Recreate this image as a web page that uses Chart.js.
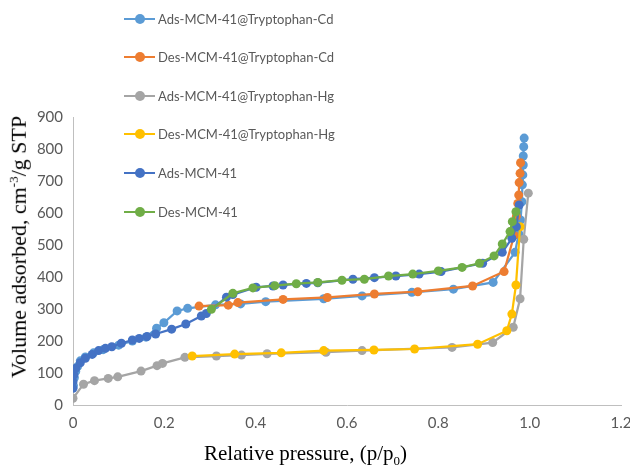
<!DOCTYPE html>
<html>
<head>
<meta charset="utf-8">
<script src="https://cdn.jsdelivr.net/npm/chart.js@4"></script>
<style>
    body { margin: 0; background: #fff; }
    #wrap { position: relative; width: 630px; height: 465px; }
    #legend { position: absolute; left: 0; top: 0; }
    .legend-item { position: absolute; left: 124px; height: 16px; white-space: nowrap;
        font-family: Lato, sans-serif; font-size: 13px; color: #595959; line-height: 16px; }
    .legend-line { position: absolute; left: 0; top: 7px; width: 31px; height: 2px; }
    .legend-dot { position: absolute; left: 11px; top: 3px; width: 10px; height: 10px; border-radius: 50%; }
    .legend-text { position: absolute; left: 34px; top: 0; }
    .axis-title { position: absolute; font-family: 'Liberation Serif', 'Times New Roman', serif;
        font-size: 21px; color: #000; white-space: nowrap; }
    #y-title { left: 19px; top: 247px; font-size: 22px; transform: translate(-50%, -50%) rotate(-90deg); }
    #x-title { left: 204px; top: 441px; }
</style>
</head>
<body>
<div id="wrap">
    <canvas id="chart" width="630" height="465"></canvas>
    <div id="legend"></div>
    <div class="axis-title" id="y-title">Volume adsorbed, cm<sup style="font-size:13px">-3</sup>/g STP</div>
    <div class="axis-title" id="x-title">Relative pressure, (p/p<sub style="font-size:13px">0</sub>)</div>
</div>
<script>
// series names and colours
const seriesNames = ['Ads-MCM-41@Tryptophan-Cd', 'Des-MCM-41@Tryptophan-Cd', 'Ads-MCM-41@Tryptophan-Hg',
    'Des-MCM-41@Tryptophan-Hg', 'Ads-MCM-41', 'Des-MCM-41'];
const seriesColors = ['#5B9BD5', '#ED7D31', '#A5A5A5', '#FFC000', '#4472C4', '#70AD47'];

// relative pressure (p/p0) and volume adsorbed for each branch
const cdAdsP = [0.001, 0.003, 0.006, 0.010, 0.016, 0.027, 0.045, 0.066, 0.100, 0.130, 0.160, 0.183, 0.199, 0.228, 0.251, 0.312, 0.367, 0.422, 0.549, 0.633, 0.742, 0.833, 0.920, 0.968, 0.976, 0.980, 0.983, 0.984, 0.985, 0.986, 0.986, 0.987, 0.988];
const cdAdsV = [60, 85, 105, 120, 138, 150, 163, 173, 187, 200, 212, 240, 257, 294, 302, 313, 316, 323, 332, 341, 352, 362, 383, 477, 535, 578, 635, 688, 719, 750, 778, 807, 834];

const cdDesP = [0.276, 0.340, 0.361, 0.460, 0.557, 0.660, 0.755, 0.875, 0.944, 0.966, 0.971, 0.974, 0.976, 0.977, 0.979, 0.980];
const cdDesV = [309, 312, 320, 330, 336, 347, 354, 372, 417, 530, 590, 630, 656, 695, 724, 757];

const hgAdsP = [0.000, 0.023, 0.047, 0.077, 0.098, 0.149, 0.184, 0.196, 0.245, 0.314, 0.369, 0.425, 0.554, 0.633, 0.830, 0.919, 0.964, 0.979, 0.987, 0.997];
const hgAdsV = [21, 65, 76, 83, 88, 106, 123, 130, 149, 153, 156, 160, 165, 170, 180, 195, 243, 332, 518, 662];

const hgDesP = [0.261, 0.354, 0.456, 0.549, 0.659, 0.748, 0.886, 0.950, 0.961, 0.970, 0.979];
const hgDesV = [153, 159, 163, 170, 172, 175, 190, 232, 284, 375, 557];

const mcmAdsP = [0.000, 0.000, 0.002, 0.006, 0.016, 0.027, 0.042, 0.056, 0.071, 0.085, 0.106, 0.130, 0.145, 0.162, 0.181, 0.216, 0.247, 0.281, 0.292, 0.336, 0.350, 0.401, 0.438, 0.460, 0.511, 0.536, 0.613, 0.660, 0.707, 0.758, 0.806, 0.897, 0.940, 0.961, 0.971, 0.977];
const mcmAdsV = [52, 73, 94, 115, 132, 146, 158, 170, 177, 182, 193, 203, 208, 214, 222, 237, 253, 278, 286, 337, 345, 368, 372, 375, 380, 382, 393, 398, 403, 409, 417, 443, 477, 521, 557, 625];

const mcmDesP = [0.303, 0.350, 0.394, 0.442, 0.489, 0.536, 0.589, 0.638, 0.691, 0.744, 0.800, 0.852, 0.890, 0.922, 0.940, 0.957, 0.962, 0.970];
const mcmDesV = [299, 349, 366, 373, 379, 383, 390, 393, 403, 409, 419, 430, 443, 466, 503, 542, 573, 604];

const xMax = 1.2, xStep = 0.2;
const yMax = 900, yStep = 100;

const seriesP = [cdAdsP, cdDesP, hgAdsP, hgDesP, mcmAdsP, mcmDesP];
const seriesV = [cdAdsV, cdDesV, hgAdsV, hgDesV, mcmAdsV, mcmDesV];

const toPoints = (px, vy) => px.map((p, i) => ({ x: p, y: vy[i] }));

const datasets = seriesNames.map((name, i) => ({
    label: name,
    data: toPoints(seriesP[i], seriesV[i]),
    showLine: true,
    borderColor: seriesColors[i],
    backgroundColor: seriesColors[i],
    borderWidth: 2.25,
    pointRadius: 4.5,
    pointBorderWidth: 0,
    pointHoverRadius: 4.5,
    order: seriesNames.length - i, // later series drawn on top, like the original
}));

// html legend stacked in one column over the empty top-left of the plot
const legendRows = [19, 57, 96, 134, 173, 212];
const legendEl = document.getElementById('legend');
seriesNames.forEach((name, i) => {
    const item = document.createElement('div');
    item.className = 'legend-item';
    item.style.top = (legendRows[i] - 8) + 'px';
    item.innerHTML = `<span class="legend-line" style="background:${seriesColors[i]}"></span>` +
        `<span class="legend-dot" style="background:${seriesColors[i]}"></span>` +
        `<span class="legend-text">${name}</span>`;
    legendEl.appendChild(item);
});

const tickFont = { family: 'Lato, sans-serif', size: 15 };

new Chart(document.getElementById('chart'), {
    type: 'scatter',
    data: { datasets },
    options: {
        responsive: false,
        animation: false,
        layout: { padding: { top: 117, right: 9, left: 0, bottom: 0 } },
        plugins: {
            legend: { display: false },
            tooltip: { enabled: false },
        },
        scales: {
            x: {
                type: 'linear',
                min: 0,
                max: xMax,
                ticks: { stepSize: xStep, font: tickFont, color: '#595959', padding: 9 },
                grid: { display: false, drawTicks: false },
                border: { display: true, color: '#BFBFBF', width: 1 },
                afterFit: s => { s.height = 60; s.paddingLeft = 0; s.paddingRight = 0; },
            },
            y: {
                min: 0,
                max: yMax,
                ticks: { stepSize: yStep, font: tickFont, color: '#595959', padding: 10 },
                grid: { display: false, drawTicks: false },
                border: { display: true, color: '#BFBFBF', width: 1 },
                afterFit: s => { s.width = 73; },
            },
        },
    },
});
</script>
</body>
</html>
